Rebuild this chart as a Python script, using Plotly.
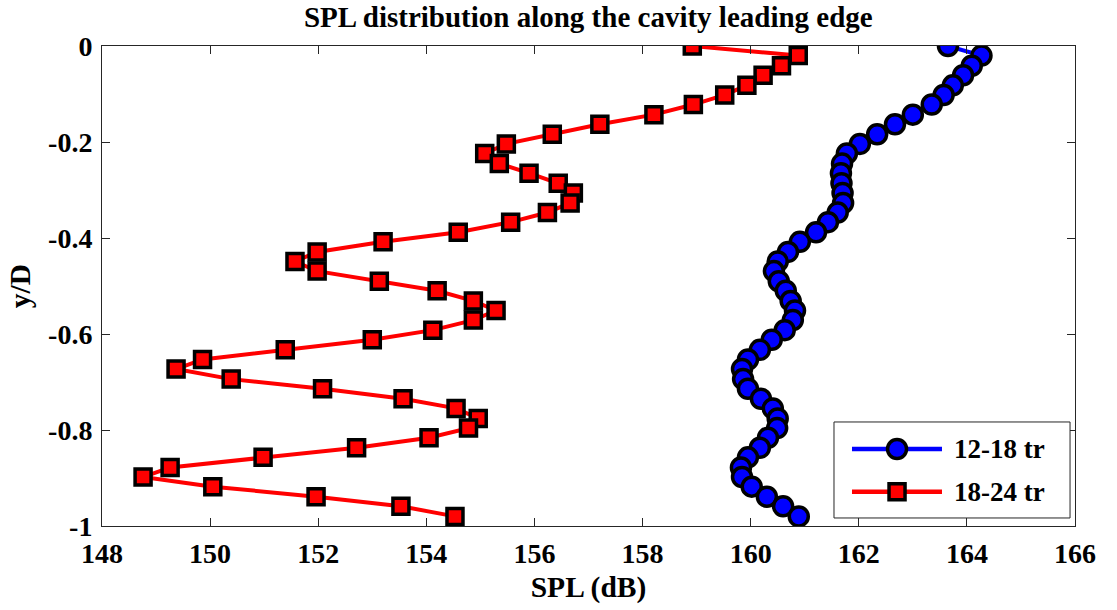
import plotly.graph_objects as go

# Wall-normal station (y/D) shared by both averaging windows
y_over_d = [0.000, -0.020, -0.041, -0.061, -0.082, -0.102, -0.122, -0.143, -0.163, -0.184,
            -0.204, -0.224, -0.245, -0.265, -0.286, -0.306, -0.327, -0.347, -0.367, -0.388,
            -0.408, -0.429, -0.449, -0.469, -0.490, -0.510, -0.531, -0.551, -0.571, -0.592,
            -0.612, -0.633, -0.653, -0.673, -0.694, -0.714, -0.735, -0.755, -0.776, -0.796,
            -0.816, -0.837, -0.857, -0.878, -0.898, -0.918, -0.939, -0.959, -0.980]

# SPL (dB), averaging window 12-18 tr
spl_12_18 = [163.65, 164.27, 164.09, 163.93, 163.74, 163.57, 163.35, 163.00, 162.67, 162.34,
             162.02, 161.78, 161.69, 161.67, 161.68, 161.70, 161.71, 161.61, 161.43, 161.21,
             160.91, 160.69, 160.50, 160.43, 160.52, 160.65, 160.74, 160.82, 160.78, 160.63,
             160.39, 160.17, 159.95, 159.84, 159.86, 159.95, 160.19, 160.41, 160.50, 160.49,
             160.32, 160.17, 159.95, 159.82, 159.84, 160.02, 160.30, 160.60, 160.89]

# SPL (dB), averaging window 18-24 tr
spl_18_24 = [158.92, 160.88, 160.57, 160.23, 159.93, 159.52, 158.94, 158.21, 157.21, 156.33,
             155.48, 155.08, 155.35, 155.90, 156.44, 156.72, 156.66, 156.24, 155.56, 154.59,
             153.20, 151.98, 151.57, 151.98, 153.13, 154.20, 154.87, 155.29, 154.87, 154.12,
             153.00, 151.39, 149.86, 149.37, 150.39, 152.08, 153.57, 154.55, 154.96, 154.78,
             154.05, 152.71, 150.98, 149.26, 148.76, 150.05, 151.96, 153.53, 154.53]

series_names = ["12-18 tr", "18-24 tr"]
series_colors = ["#0000ff", "#ff0000"]

x_ticks = [148, 150, 152, 154, 156, 158, 160, 162, 164, 166]
y_ticks = [0, -0.2, -0.4, -0.6, -0.8, -1]
y_tick_text = ["0", "-0.2", "-0.4", "-0.6", "-0.8", "-1"]

FONT = "Liberation Serif"
INK = "#262626"

fig = go.Figure()
fig.add_trace(go.Scatter(
    x=spl_12_18, y=y_over_d, mode="lines+markers", name=series_names[0],
    line=dict(color=series_colors[0], width=4),
    marker=dict(symbol="circle", size=19, color=series_colors[0],
                line=dict(color="black", width=3.5)),
    showlegend=False,
))
fig.add_trace(go.Scatter(
    x=spl_18_24, y=y_over_d, mode="lines+markers", name=series_names[1],
    line=dict(color=series_colors[1], width=4),
    marker=dict(symbol="square", size=16, color=series_colors[1],
                line=dict(color="black", width=3.5)),
    showlegend=False,
))

# Legend box drawn by hand so the key lines can be long
shapes = [dict(type="rect", xref="paper", yref="paper",
               x0=0.7523, x1=0.9949, y0=0.0167, y1=0.2167,
               line=dict(color=INK, width=1), fillcolor="white", layer="above")]
annotations = []
rows_y = [0.1604, 0.0715]
key_x0, key_x1, key_mid, text_x = 0.7708, 0.8633, 0.8171, 0.8736
for i, (name, color) in enumerate(zip(series_names, series_colors)):
    ry = rows_y[i]
    shapes.append(dict(type="line", xref="paper", yref="paper",
                       x0=key_x0, x1=key_x1, y0=ry, y1=ry,
                       line=dict(color=color, width=4.5), layer="above"))
    half = 9.5 if i == 0 else 8
    shapes.append(dict(type="circle" if i == 0 else "rect",
                       xref="paper", yref="paper",
                       xsizemode="pixel", ysizemode="pixel",
                       xanchor=key_mid, yanchor=ry,
                       x0=-half, x1=half, y0=-half, y1=half,
                       fillcolor=color, line=dict(color="black", width=3.5),
                       layer="above"))
    annotations.append(dict(text=name, xref="paper", yref="paper",
                            x=text_x, y=ry, xanchor="left", yanchor="middle",
                            showarrow=False,
                            font=dict(family=FONT, size=27, color="black", weight="bold")))

axis_common = dict(
    showgrid=False, zeroline=False, showline=True, linecolor=INK, linewidth=1,
    mirror="ticks", ticks="inside", ticklen=8, tickwidth=1, tickcolor=INK,
    tickfont=dict(family=FONT, size=28, color="black", weight="bold"),
)

fig.update_layout(
    width=1117, height=610,
    margin=dict(l=102, r=42, t=46, b=84),
    paper_bgcolor="white", plot_bgcolor="white",
    title=dict(text="SPL distribution along the cavity leading edge",
               x=0.5267, xanchor="center", y=0.972, yanchor="middle",
               font=dict(family=FONT, size=29, color="black", weight="bold")),
    xaxis=dict(range=[148, 166], tickvals=x_ticks, ticklabelstandoff=2,
               title=dict(text="SPL (dB)", standoff=8,
                          font=dict(family=FONT, size=29.5, color="black", weight="bold")),
               **axis_common),
    yaxis=dict(range=[-1, 0], tickvals=y_ticks, ticktext=y_tick_text,
               ticklabelstandoff=3,
               title=dict(text="y/D", standoff=8,
                          font=dict(family=FONT, size=29.5, color="black", weight="bold")),
               **axis_common),
    shapes=shapes,
    annotations=annotations,
    showlegend=False,
)

fig.write_html("out.html")
